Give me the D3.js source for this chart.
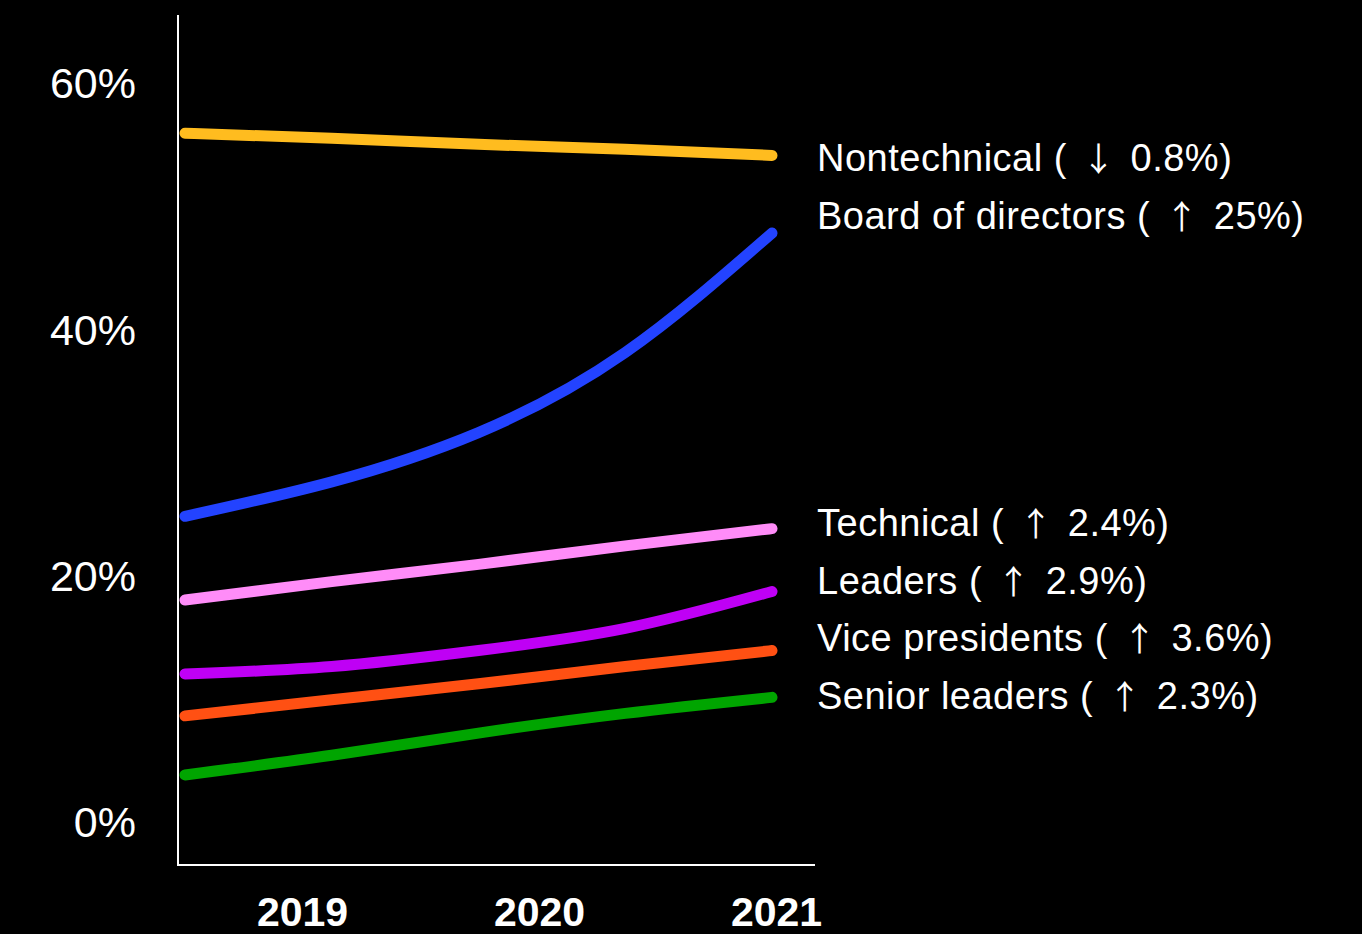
<!DOCTYPE html>
<html>
<head>
<meta charset="utf-8">
<script src="https://cdn.jsdelivr.net/npm/d3@7"></script>
<style>
  html, body { margin: 0; padding: 0; background: #000; }
  svg { display: block; }
</style>
</head>
<body>
<svg id="chart" width="1362" height="934"></svg>
<script>
// ---- data ----
const years = ["2019", "2020", "2021"];
const periods = [2019, 2019.5, 2020, 2020.5, 2021];
const yTicks = [0, 20, 40, 60];

const seriesNames = ["Nontechnical", "Board of directors", "Technical", "Leaders", "Vice presidents", "Senior leaders"];
const changeArrows = ["↓", "↑", "↑", "↑", "↑", "↑"];
const changeLabels = ["0.8%", "25%", "2.4%", "2.9%", "3.6%", "2.3%"];
const seriesColors = ["#FFBC1F", "#2343FF", "#FF8CF8", "#BF00F5", "#FF5013", "#00A500"];

const nontechnical = [56.0, 55.6, 55.1, 54.7, 54.2];
const boardOfDirectors = [24.9, 27.7, 31.7, 38.2, 47.9];
const technical = [18.1, 19.6, 21.0, 22.5, 23.9];
const leaders = [12.1, 12.7, 14.0, 15.8, 18.8];
const vicePresidents = [8.7, 10.0, 11.3, 12.7, 14.0];
const seniorLeaders = [3.9, 5.5, 7.3, 8.9, 10.2];

const seriesValues = [nontechnical, boardOfDirectors, technical, leaders, vicePresidents, seniorLeaders];

// ---- layout ----
const svg = d3.select("#chart");
const axisX = 178, axisBottomY = 865, axisTopY = 15, axisRightX = 815;
const FONT = "'Liberation Sans', Arial, Helvetica, sans-serif";

const x = d3.scaleLinear().domain([2019, 2021]).range([185, 772]);
const xYears = d3.scalePoint().domain(years).range([302, 776]);
const y = d3.scaleLinear().domain([0, 60]).range([823, 84]);

svg.append("rect").attr("width", 1362).attr("height", 934).attr("fill", "#000");

// axes lines
svg.append("line")
  .attr("x1", axisX).attr("x2", axisX)
  .attr("y1", axisTopY).attr("y2", axisBottomY + 1)
  .attr("stroke", "#fff").attr("stroke-width", 2);
svg.append("line")
  .attr("x1", axisX - 1).attr("x2", axisRightX)
  .attr("y1", axisBottomY).attr("y2", axisBottomY)
  .attr("stroke", "#fff").attr("stroke-width", 2);

// y axis labels
const yAxis = d3.axisLeft(y).tickValues(yTicks).tickSize(0).tickPadding(42)
  .tickFormat(d => d + "%");
const gy = svg.append("g").attr("transform", `translate(${axisX},0)`).call(yAxis);
gy.select(".domain").remove();
gy.selectAll("text")
  .attr("fill", "#fff")
  .style("font-family", FONT)
  .style("font-size", "43px");

// x axis labels
const xAxis = d3.axisBottom(xYears).tickSize(0).tickPadding(32);
const gx = svg.append("g").attr("transform", `translate(0,${axisBottomY})`).call(xAxis);
gx.select(".domain").remove();
gx.selectAll("text")
  .attr("fill", "#fff")
  .style("font-family", FONT)
  .style("font-weight", "bold")
  .style("font-size", "41px");

// lines
const line = d3.line()
  .x((d, i) => x(periods[i]))
  .y(d => y(d))
  .curve(d3.curveNatural);

svg.append("g").selectAll("path")
  .data(seriesValues)
  .join("path")
  .attr("d", d => line(d))
  .attr("fill", "none")
  .attr("stroke", (d, i) => seriesColors[i])
  .attr("stroke-width", 11)
  .attr("stroke-linecap", "round");

// end labels: cluster nearby line ends and stack them
const fontSize = 38, gap = 57.5;
const ends = seriesValues.map((v, i) => ({ i, y: y(v[v.length - 1]) }))
  .sort((a, b) => a.y - b.y);
const clusters = [];
ends.forEach(e => {
  const last = clusters[clusters.length - 1];
  if (last && e.y - last[last.length - 1].y < 90) last.push(e);
  else clusters.push([e]);
});
const labelPos = [];
clusters.forEach(c => {
  const mean = d3.mean(c, e => e.y);
  c.forEach((e, k) => {
    labelPos[e.i] = mean + (k - (c.length - 1) / 2) * gap - 8 + 0.358 * fontSize;
  });
});

const labels = svg.append("g").selectAll("text")
  .data(seriesNames)
  .join("text")
  .attr("x", 817)
  .attr("y", (d, i) => labelPos[i])
  .attr("fill", "#fff")
  .style("font-family", FONT)
  .style("font-size", fontSize + "px")
  .style("letter-spacing", "0.5px");

labels.append("tspan").text((d, i) => `${d} ( `);
labels.append("tspan")
  .attr("dx", 4)
  .style("font-family", "'Noto Sans CJK SC', 'DejaVu Sans', sans-serif")
  .style("font-size", "33px")
  .text((d, i) => changeArrows[i]);
labels.append("tspan").attr("dx", 4).text((d, i) => ` ${changeLabels[i]})`);
</script>
</body>
</html>
